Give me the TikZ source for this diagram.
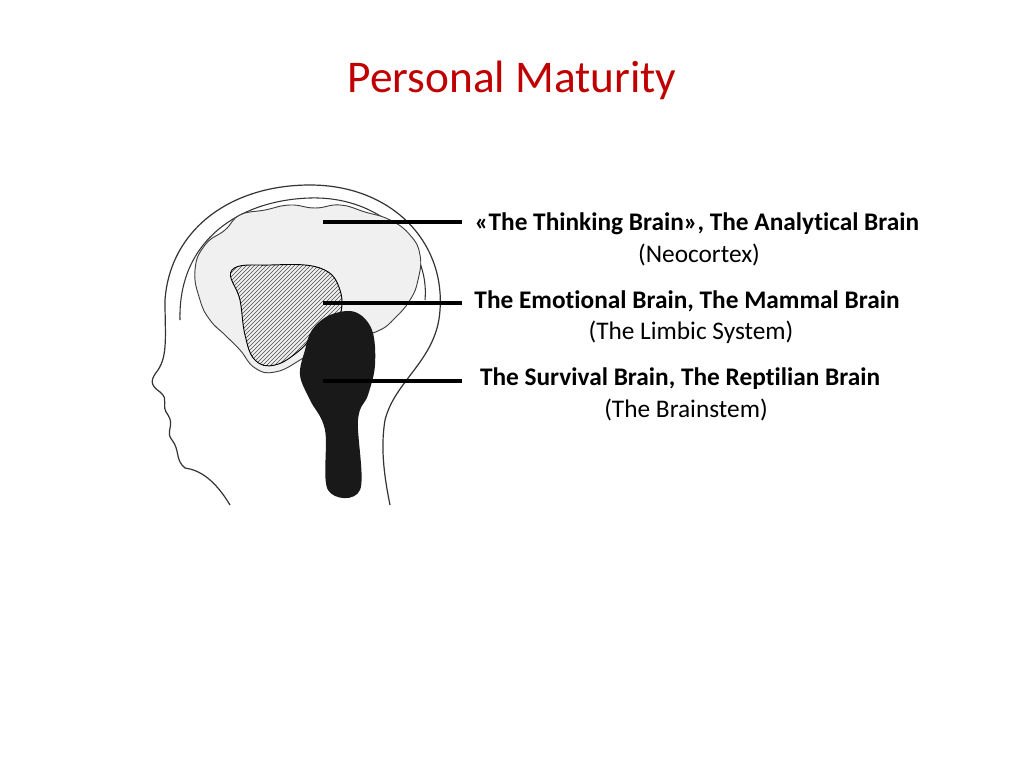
\documentclass[tikz,border=0pt]{standalone}
\usepackage{fontspec}
\setmainfont{Carlito}[Ligatures={NoCommon}]
\usetikzlibrary{patterns}
\definecolor{titlered}{RGB}{192,0,0}
\tikzset{
  lbl/.style={anchor=center,inner sep=0.75pt,font=\fontsize{19}{22}\selectfont\bfseries},
  sublbl/.style={anchor=center,inner sep=0.75pt,font=\fontsize{19}{22}\selectfont},
  pointer/.style={line width=3pt}
}
\begin{document}
\begin{tikzpicture}[x=0.75pt,y=0.75pt,yscale=-1,xscale=1]
  \useasboundingbox (0,0) rectangle (1024,768);
  \fill[white] (0,0) rectangle (1024,768);

  % title
  \node (title) [font=\fontsize{34}{40}\selectfont,text=titlered] at (512,80) {Personal Maturity};

  % head outline
  \draw[line width=0.9pt,gray!40!black] (230,505) .. controls (215,480) and (200,470) .. (185,468)
    .. controls (175,460) and (180,450) .. (172,440)
    .. controls (165,432) and (175,425) .. (168,415)
    .. controls (160,405) and (170,400) .. (160,392)
    .. controls (150,385) and (150,380) .. (158,370)
    .. controls (168,355) and (165,335) .. (165,300)
    .. controls (170,230) and (230,185) .. (310,185)
    .. controls (390,185) and (445,240) .. (440,310)
    .. controls (437,360) and (395,380) .. (385,420)
    .. controls (380,450) and (385,480) .. (390,505);
  \draw[line width=0.8pt,gray!40!black] (180,320) .. controls (178,240) and (240,200) .. (310,198)
    .. controls (380,196) and (430,245) .. (425,300);

  % neocortex
  \draw[line width=0.7pt,fill=gray!12,draw=gray!50!black] plot[smooth cycle,tension=0.8] coordinates {
    (200,300) (195,270) (205,245) (225,230) (240,215) (265,210) (290,205) (315,208)
    (340,205) (365,212) (390,220) (410,235) (420,255) (418,280) (410,300) (395,318)
    (380,330) (360,335) (345,330) (320,345) (300,360) (275,372) (255,368) (240,350)
    (225,335) (210,320)};

  % limbic system
  \draw[line width=0.7pt,pattern=north east lines,pattern color=gray!60!black]
    plot[smooth cycle,tension=0.7] coordinates {
    (232,270) (270,265) (320,268) (340,290) (338,320) (318,330) (300,350) (275,365)
    (255,360) (245,335) (240,300)};

  % brainstem
  \fill[gray!20!black] plot[smooth cycle,tension=0.6] coordinates {
    (312,330) (330,315) (355,312) (372,330) (375,365) (368,395) (358,420)
    (360,490) (328,490) (325,430) (310,400) (300,375) (305,350)};

  % pointers
  \coordinate (neoL) at (323,222);  \coordinate (neoR) at (462,222);
  \coordinate (limL) at (323,303);  \coordinate (limR) at (462,303);
  \coordinate (stemL) at (323,381); \coordinate (stemR) at (462,381);
  \draw[pointer] (neoL) -- (neoR);
  \draw[pointer] (limL) -- (limR);
  \draw[pointer] (stemL) -- (stemR);

  % labels
  \node (neo) [lbl] at (697,224) {«The Thinking Brain», The Analytical Brain};
  \node (neosub) [sublbl] at (699,255) {(Neocortex)};
  \node (lim) [lbl] at (687,301) {The Emotional Brain, The Mammal Brain};
  \node (limsub) [sublbl] at (691,332) {(The Limbic System)};
  \node (stem) [lbl] at (680,379) {The Survival Brain, The Reptilian Brain};
  \node (stemsub) [sublbl] at (686,410) {(The Brainstem)};
\end{tikzpicture}
\end{document}
